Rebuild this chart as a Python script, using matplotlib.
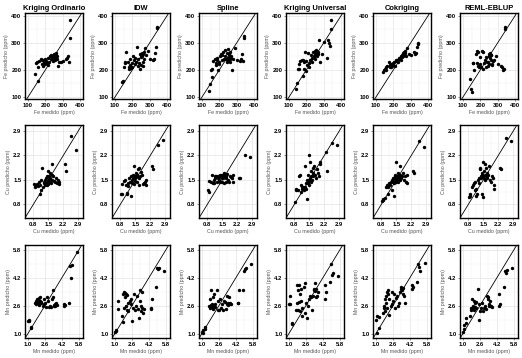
import matplotlib
matplotlib.use('Agg')
import matplotlib.pyplot as plt

# metodos de interpolacion (columnas)
metodos = ['Kriging Ordinario', 'IDW', 'Spline', 'Kriging Universal', 'Cokriging', 'REML-EBLUP']

# ---- Fe (ppm) ----
fe_medido = [140, 148, 150, 155, 160, 165, 172, 178, 180, 185, 188, 192, 196, 200, 205,
             210, 215, 218, 222, 226, 230, 234, 238, 242, 245, 248, 250, 252, 255, 258,
             260, 262, 264, 266, 268, 272, 280, 290, 305, 318, 325, 330, 338, 340, 342]
fe_ko = [183, 225, 230, 210, 160, 232, 240, 222, 238, 235, 215, 228, 240, 220, 232,
         225, 218, 245, 230, 250, 240, 255, 248, 232, 238, 242, 250, 258, 245, 235,
         262, 255, 248, 240, 252, 215, 228, 230, 232, 240, 245, 250, 228, 385, 320]
fe_idw = [155, 158, 210, 225, 230, 265, 228, 212, 205, 240, 218, 208, 225, 210, 250,
          235, 245, 220, 230, 285, 215, 240, 225, 260, 205, 218, 255, 248, 250, 262,
          215, 258, 228, 240, 268, 280, 255, 270, 242, 235, 240, 262, 285, 355, 358]
fe_spline = [122, 148, 200, 175, 205, 232, 240, 225, 218, 245, 235, 200, 228, 222, 250,
             260, 235, 255, 268, 240, 275, 252, 240, 230, 262, 245, 278, 235, 258, 248,
             240, 268, 230, 252, 245, 200, 240, 282, 235, 232, 240, 258, 232, 325, 320]
fe_ku = [128, 150, 205, 205, 222, 232, 238, 235, 178, 228, 205, 268, 232, 195, 218,
         262, 225, 212, 238, 255, 245, 228, 265, 250, 248, 240, 270, 258, 262, 275,
         268, 255, 252, 260, 265, 312, 228, 258, 305, 245, 310, 300, 290, 385, 350]
fe_cok = [192, 198, 205, 200, 210, 215, 230, 218, 210, 212, 222, 215, 220, 225, 228,
          215, 235, 232, 238, 228, 245, 240, 245, 250, 238, 248, 252, 255, 250, 262,
          258, 265, 255, 270, 262, 250, 280, 260, 255, 265, 260, 262, 285, 300, 295]
fe_reml = [165, 130, 118, 225, 225, 200, 258, 270, 225, 215, 265, 212, 222, 248, 210,
           270, 205, 265, 225, 238, 212, 248, 230, 215, 228, 258, 252, 220, 262, 245,
           255, 238, 255, 222, 218, 232, 235, 252, 222, 215, 210, 200, 205, 360, 350]

# ---- Cu (ppm) ----
cu_medido = [0.85, 0.88, 0.9, 0.95, 1.0, 1.05, 1.1, 1.12, 1.15, 1.18, 1.2, 1.25, 1.28, 1.3, 1.33,
             1.35, 1.38, 1.4, 1.42, 1.44, 1.45, 1.47, 1.5, 1.5, 1.52, 1.55, 1.56, 1.58, 1.6, 1.62,
             1.65, 1.65, 1.68, 1.7, 1.75, 1.8, 1.85, 1.9, 1.95, 2.0, 2.02, 2.3, 2.32, 2.55, 2.8]
cu_ko = [1.38, 1.35, 1.3, 1.38, 1.32, 1.45, 1.35, 1.1, 1.5, 1.22, 1.85, 1.3, 1.4, 1.45, 1.35,
         1.5, 1.42, 1.55, 1.4, 1.6, 1.35, 1.48, 1.75, 1.38, 1.52, 1.62, 1.45, 1.7, 1.55, 1.42,
         1.95, 1.65, 1.5, 1.6, 1.48, 1.45, 1.55, 1.42, 1.5, 1.45, 1.38, 1.95, 1.75, 2.75, 2.35]
cu_idw = [1.1, 1.1, 1.38, 1.48, 1.5, 1.35, 1.1, 1.12, 1.4, 1.32, 1.55, 1.45, 1.05, 1.6, 1.5,
          1.42, 1.65, 1.55, 1.38, 1.6, 1.9, 1.48, 1.62, 1.55, 1.7, 1.58, 1.45, 1.6, 1.65, 1.8,
          1.85, 1.55, 1.35, 1.62, 1.72, 1.65, 1.38, 1.4, 1.45, 1.35, 1.5, 1.9, 1.8, 2.5, 2.65]
cu_spline = [1.2, 1.15, 1.48, 1.45, 1.65, 1.42, 1.5, 1.4, 1.55, 1.6, 1.62, 1.45, 1.55, 1.6, 1.62,
             1.5, 1.65, 1.45, 1.58, 1.62, 1.6, 1.45, 1.55, 1.65, 1.6, 1.55, 1.42, 1.7, 1.6, 1.58,
             1.45, 1.62, 1.55, 1.68, 1.5, 1.45, 1.6, 1.58, 1.55, 1.45, 1.65, 1.55, 1.55, 2.2, 2.15]
cu_ku = [0.88, 1.2, 1.25, 1.22, 1.6, 1.65, 1.15, 1.35, 1.3, 1.25, 1.3, 1.22, 1.3, 1.9, 1.42,
         1.25, 1.5, 0.95, 1.45, 1.65, 1.4, 1.5, 2.2, 1.35, 1.55, 2.0, 1.45, 1.6, 1.75, 1.5,
         1.6, 1.85, 1.7, 1.9, 1.65, 1.55, 1.8, 1.7, 1.6, 1.95, 2.0, 2.3, 1.75, 2.55, 2.5]
cu_cok = [0.9, 0.92, 0.95, 0.97, 1.3, 1.35, 1.1, 1.3, 1.4, 1.38, 1.35, 1.45, 1.2, 1.5, 1.45,
          1.55, 1.4, 1.05, 1.6, 1.5, 1.65, 1.45, 2.0, 1.55, 1.5, 1.6, 1.45, 1.7, 1.62, 1.55,
          1.9, 1.5, 1.65, 1.55, 1.6, 1.7, 1.5, 1.6, 1.45, 1.4, 1.65, 1.75, 1.7, 2.6, 2.45]
cu_reml = [1.0, 1.05, 1.1, 1.3, 1.35, 1.4, 1.45, 1.2, 1.05, 1.25, 1.1, 1.5, 1.4, 1.55, 1.8,
           1.85, 1.6, 1.55, 1.7, 1.1, 1.65, 1.0, 2.0, 1.6, 1.75, 1.55, 1.95, 1.5, 1.65, 1.85,
           1.6, 1.7, 1.55, 1.65, 1.9, 1.5, 1.45, 1.6, 1.55, 1.25, 1.35, 1.85, 1.8, 2.7, 2.6]

# ---- Mn (ppm) ----
mn_medido = [1.05, 1.1, 1.15, 1.3, 1.35, 1.7, 1.75, 1.8, 1.85, 1.9, 1.95, 2.0, 2.05, 2.1, 2.15,
             2.2, 2.25, 2.3, 2.4, 2.5, 2.55, 2.6, 2.7, 2.8, 2.9, 3.0, 3.1, 3.2, 3.3, 3.35,
             3.4, 3.45, 3.5, 3.55, 3.6, 3.7, 3.8, 4.4, 4.45, 4.5, 4.9, 5.0, 5.1, 5.2, 5.6]
mn_ko = [1.75, 1.78, 1.75, 1.35, 1.4, 2.75, 2.9, 2.7, 2.85, 3.0, 2.8, 2.95, 3.05, 2.65, 2.9,
         3.1, 2.75, 2.85, 2.6, 3.0, 2.7, 2.8, 2.55, 3.1, 2.9, 2.55, 2.6, 2.55, 3.0, 3.1,
         3.5, 2.6, 2.65, 2.6, 2.7, 2.75, 2.65, 2.7, 2.6, 2.65, 2.8, 4.9, 4.2, 4.95, 5.7]
mn_idw = [1.1, 1.15, 1.2, 2.45, 2.9, 2.0, 3.3, 1.7, 2.5, 3.4, 3.1, 3.35, 2.6, 3.3, 2.4,
          3.25, 2.8, 2.3, 2.9, 2.7, 3.0, 1.75, 2.5, 3.3, 2.4, 2.6, 3.2, 2.45, 1.9, 2.9,
          3.5, 2.6, 2.3, 3.4, 2.5, 2.2, 2.45, 2.45, 2.5, 3.0, 3.7, 4.8, 4.7, 4.75, 4.6]
mn_spline = [1.1, 1.05, 1.2, 1.4, 1.3, 2.6, 2.5, 3.0, 2.65, 3.5, 2.55, 2.7, 3.1, 2.45, 3.3,
             2.6, 2.7, 2.55, 3.5, 2.4, 2.9, 2.35, 3.0, 2.5, 2.7, 2.4, 2.9, 2.85, 2.45, 3.2,
             2.7, 2.8, 2.65, 3.1, 2.7, 2.75, 2.7, 2.75, 2.8, 3.5, 3.5, 4.6, 4.7, 4.75, 5.0]
mn_ku = [2.7, 3.2, 2.7, 1.55, 1.65, 2.4, 2.8, 3.8, 2.35, 3.5, 2.85, 3.8, 2.3, 3.3, 2.9,
         3.6, 2.5, 2.0, 3.7, 3.9, 2.2, 2.75, 1.9, 2.6, 3.0, 3.2, 3.1, 2.4, 3.2, 3.6,
         3.5, 3.9, 3.45, 3.1, 3.6, 3.2, 3.4, 3.0, 3.8, 3.4, 4.0, 5.0, 4.4, 4.5, 4.3]
mn_cok = [1.8, 2.0, 1.05, 1.95, 1.35, 2.2, 2.5, 2.6, 2.3, 3.0, 3.2, 2.8, 3.4, 2.5, 3.5,
          3.3, 2.1, 3.0, 2.6, 3.4, 2.7, 2.9, 3.3, 2.5, 3.05, 3.2, 2.6, 2.8, 3.4, 3.6,
          3.7, 3.5, 3.55, 3.3, 3.65, 3.2, 2.8, 3.8, 3.6, 3.7, 4.0, 5.0, 4.85, 4.6, 5.05]
mn_reml = [1.1, 1.5, 1.3, 1.6, 1.9, 2.0, 2.4, 2.5, 3.0, 2.45, 2.6, 2.5, 2.9, 2.4, 2.75,
           2.55, 2.85, 2.5, 3.6, 1.8, 2.7, 2.3, 2.5, 2.75, 2.3, 2.5, 2.6, 2.45, 3.2, 3.0,
           3.1, 2.6, 2.7, 2.6, 2.9, 2.6, 2.55, 2.6, 3.3, 2.7, 3.7, 4.6, 4.5, 4.65, 4.8]

fe_ticks = [100, 200, 300, 400]
cu_ticks = [0.8, 1.5, 2.2, 2.9]
mn_ticks = [1.0, 2.6, 4.2, 5.8]

filas = [
    ('Fe', fe_medido, [fe_ko, fe_idw, fe_spline, fe_ku, fe_cok, fe_reml], fe_ticks, '%d',
     (82, 418), (92, 411)),
    ('Cu', cu_medido, [cu_ko, cu_idw, cu_spline, cu_ku, cu_cok, cu_reml], cu_ticks, '%.1f',
     (0.41, 3.12), (0.41, 3.07)),
    ('Mn', mn_medido, [mn_ko, mn_idw, mn_spline, mn_ku, mn_cok, mn_reml], mn_ticks, '%.1f',
     (0.75, 6.2), (0.77, 6.09)),
]


def main():
    plt.rcParams['font.family'] = ['Liberation Sans', 'DejaVu Sans']
    W, H = 522, 358
    fig = plt.figure(figsize=(W / 100, H / 100), dpi=100)
    fig.patch.set_facecolor('white')

    # pixel bounds (top, bottom) for each row
    row_px = [(13, 99), (125, 218), (245, 338)]

    for r, (el, med, preds, ticks, fmt, xlim, ylim) in enumerate(filas):
        top, bot = row_px[r]
        for c, pred in enumerate(preds):
            left = 87 * c + 25
            ax = fig.add_axes([left / W, 1 - bot / H, 58 / W, (bot - top) / H])
            ax.set_axisbelow(True)
            ax.set_xlim(xlim)
            ax.set_ylim(ylim)
            labels = [fmt % t for t in ticks]
            ax.set_xticks(ticks, labels, fontweight='bold')
            ax.set_yticks(ticks, labels, fontweight='bold')
            minors = [(a + b) / 2 for a, b in zip(ticks[:-1], ticks[1:])]
            ax.set_xticks(minors, minor=True)
            ax.set_yticks(minors, minor=True)
            ax.grid(which='major', color='#e3e3e3', lw=0.5)
            ax.grid(which='minor', color='#f0f0f0', lw=0.3)
            ax.tick_params(which='major', labelsize=4.2, length=1.6, width=0.4,
                           pad=1, color='#333333', labelcolor='black')
            ax.tick_params(which='minor', length=0)
            ax.axline((ylim[0], ylim[0]), slope=1, color='black', lw=0.6, zorder=2)
            ax.scatter(med, pred, s=6, c='black', linewidths=0, zorder=3)
            for sp in ax.spines.values():
                sp.set_linewidth(1.0)
                sp.set_color('black')
            ax.set_xlabel(f'{el} medido (ppm)', fontsize=3.8, color='#555555', labelpad=1.5)
            ax.set_ylabel(f'{el} predicho (ppm)', fontsize=3.8, color='#555555', labelpad=1.5)
            if r == 0:
                ax.set_title(metodos[c], fontsize=5.4, fontweight='bold', pad=2.2)

    fig.savefig('out.png', dpi=100)


if __name__ == "__main__":
    main()
